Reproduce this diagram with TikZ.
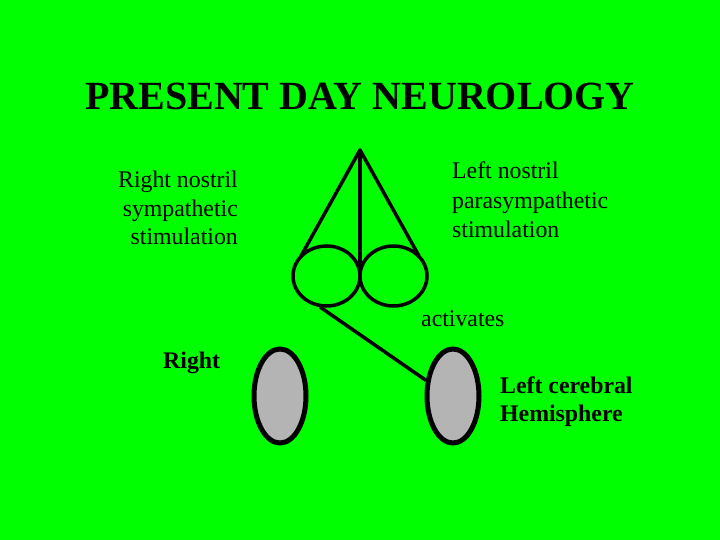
\documentclass[tikz,border=0pt]{standalone}
\usepackage{fontspec}
\setmainfont{Liberation Serif}
\usetikzlibrary{shapes.geometric}
\definecolor{bg}{RGB}{0,255,0}
\definecolor{hemi}{RGB}{180,180,180}
\tikzset{
  txt/.style={inner sep=0pt, font=\fontsize{23.8}{28}\selectfont},
  btxt/.style={inner sep=0pt, font=\fontsize{23.8}{28}\selectfont\bfseries},
  nostril/.style={draw, ellipse, line width=3.5pt, minimum width=67pt, minimum height=60pt, inner sep=0pt},
  hemisphere/.style={draw, ellipse, line width=5pt, fill=hemi, minimum width=52pt, minimum height=94pt, inner sep=0pt},
  wire/.style={line width=3.5pt}
}
\begin{document}
\begin{tikzpicture}[x=1pt,y=-1pt]
\fill[bg] (0,0) rectangle (720,540);
\useasboundingbox (0,0) rectangle (720,540);
\node[inner sep=0pt, anchor=base, font=\fontsize{40}{44}\selectfont\bfseries] (title) at (360,110) {PRESENT DAY NEUROLOGY};
% right nostril text
\node[txt, anchor=base east] (r1) at (238,188) {Right nostril};
\node[txt, anchor=base east] (r2) at (238,216) {sympathetic};
\node[txt, anchor=base east] (r3) at (238,244) {stimulation};
% left nostril text
\node[txt, anchor=base west] (l1) at (452,179) {Left nostril};
\node[txt, anchor=base west] (l2) at (452,208) {parasympathetic};
\node[txt, anchor=base west] (l3) at (452,237) {stimulation};
\node[txt, anchor=base west] (act) at (421,326) {activates};
\node[btxt, anchor=base west] (right) at (163,368) {Right};
\node[btxt, anchor=base west] (lc1) at (500,393) {Left cerebral};
\node[btxt, anchor=base west] (lc2) at (500,421) {Hemisphere};
% nose
\coordinate (apex) at (360,150);
\node[nostril] (ln) at (326.5,276) {};
\node[nostril] (rn) at (393.5,276) {};
\coordinate (lt) at (301,256);
\coordinate (rt) at (419,256);
\coordinate (mid) at (360,268);
\draw[wire, line join=round] (lt) -- (apex) -- (rt);
\draw[wire] (apex) -- (mid);
% hemispheres
\node[hemisphere] (rh) at (280,396) {};
\node[hemisphere] (lh) at (453,396) {};
\coordinate (nb) at (320,307);
\draw[wire] (nb) -- (lh.150);
\end{tikzpicture}
\end{document}
